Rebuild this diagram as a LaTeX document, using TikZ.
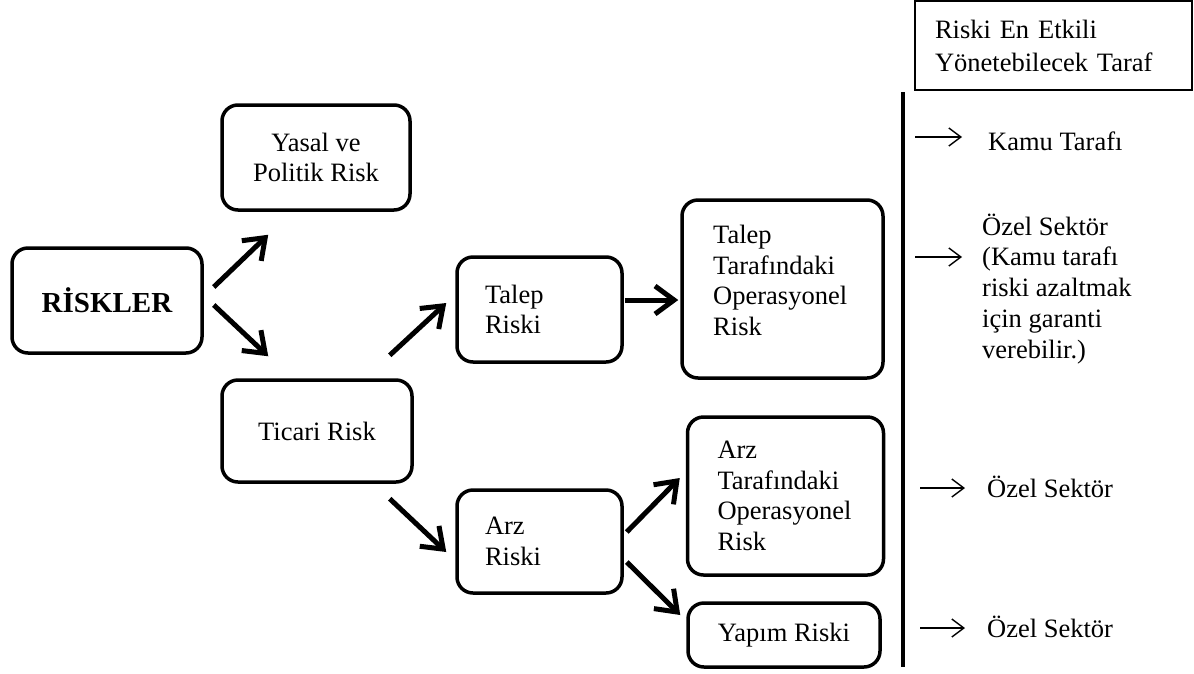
\documentclass[tikz,border=0pt]{standalone}
\usepackage{fontspec}
\setmainfont{Liberation Serif}
\usetikzlibrary{arrows.meta,calc}

\begin{document}
\begin{tikzpicture}[x=1pt,y=-1pt,
  font=\fontsize{26.5}{30.7}\selectfont,
  rbox/.style={draw,line width=3.5pt,rounded corners=16pt,inner sep=0pt,align=center},
  lbox/.style={rbox,align=left},
  bigarrow/.style={line width=5pt,-{Straight Barb[length=19pt,width=28pt]}},
  thinarrow/.style={line width=1.4pt,-{Straight Barb[length=12pt,width=18pt]}},
  sidetext/.style={inner sep=0pt,anchor=base west,align=left}
]
\useasboundingbox (0,0) rectangle (1194,673);

% risk categories
\node[rbox,font=\fontsize{29}{32}\selectfont\bfseries,minimum width=190pt,minimum height=105pt] (risk) at (107,300.5) {RİSKLER};
\node[rbox,minimum width=188pt,minimum height=105pt] (yasal) at (316,157.5) {Yasal ve\\Politik Risk};
\node[rbox,minimum width=190pt,minimum height=102pt] (ticari) at (317,431) {Ticari Risk};
\node[lbox,inner xsep=28pt,text width=109pt,minimum height=105pt] (talep) at (539.5,309.5) {Talep\\Riski};
\node[lbox,inner xsep=28pt,text width=109pt,minimum height=103pt] (arz) at (539.5,541.5) {Arz\\Riski};
% the text of this box sits a little above its middle
\node[rbox,minimum width=201pt,minimum height=178pt] (talepop) at (782.5,289) {};
\node[inner sep=0pt,align=left,anchor=north west] (talepoptext) at (713,225) {Talep\\Tarafındaki\\Operasyonel\\Risk};
\node[lbox,inner xsep=30pt,text width=136pt,minimum height=158pt] (arzop) at (785.5,496) {Arz\\Tarafındaki\\Operasyonel\\Risk};
\node[rbox,minimum width=192pt,minimum height=64pt] (yapim) at (784,635) {Yapım Riski};

% thick connectors
\draw[bigarrow] ($(risk.east)+(10,-13.5)$) -- ($(yasal.south west)+(48,23)$);
\draw[bigarrow] ($(risk.east)+(10,4.5)$) -- ($(ticari.north west)+(48,-22)$);
\draw[bigarrow] ($(ticari.north east)+(-24,-23)$) -- ($(talep.west)+(-9,-6.5)$);
\draw[bigarrow] ($(talep.east)+(1,-9.5)$) -- ($(talepop.west)+(-2,11)$);
\draw[bigarrow] ($(ticari.south east)+(-24,15)$) -- ($(arz.west)+(-9,10.5)$);
\draw[bigarrow] ($(arz.east)+(3,-9.5)$) -- ($(arzop.west)+(-6,-18)$);
\draw[bigarrow] ($(arz.east)+(3,20.5)$) -- ($(yapim.west)+(-6,-20)$);

% responsible party column
\node[draw,line width=1.3pt,inner xsep=20pt,inner ysep=0pt,text width=237pt,minimum height=89pt,align=left,font=\fontsize{26.5}{33}\selectfont] (head) at (1053.5,45.5) {Riski En Etkili\\Yönetebilecek Taraf};

\coordinate (vtop) at (903,92);
\coordinate (vbot) at (903,667);
\draw[line width=4.5pt] (vtop) -- (vbot);

\node[sidetext] (kamu) at (988,150) {Kamu Tarafı};
\node[sidetext] (ozel1) at (982,358) {Özel Sektör\\(Kamu tarafı\\riski azaltmak\\için garanti\\verebilir.)};
\node[sidetext] (ozel2) at (987,497) {Özel Sektör};
\node[sidetext] (ozel3) at (987,637) {Özel Sektör};

\coordinate (a1s) at (915,137); \coordinate (a1e) at (962,137);
\coordinate (a2s) at (915,257); \coordinate (a2e) at (962,257);
\coordinate (a3s) at (920,488); \coordinate (a3e) at (965,488);
\coordinate (a4s) at (920,628); \coordinate (a4e) at (965,628);
\draw[thinarrow] (a1s) -- (a1e);
\draw[thinarrow] (a2s) -- (a2e);
\draw[thinarrow] (a3s) -- (a3e);
\draw[thinarrow] (a4s) -- (a4e);
\end{tikzpicture}
\end{document}
